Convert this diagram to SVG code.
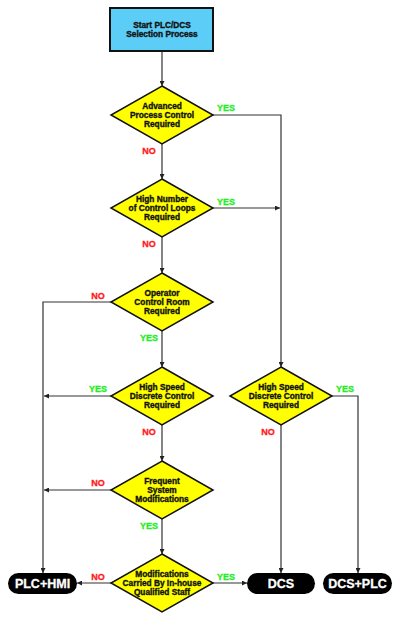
<svg xmlns="http://www.w3.org/2000/svg" width="400" height="622" viewBox="0 0 400 622">
<defs>
<marker id="ah" viewBox="0 0 6 6" refX="6" refY="3" markerWidth="5" markerHeight="5" markerUnits="userSpaceOnUse" orient="auto">
<path d="M0,0 L6,3 L0,6 Z" fill="#222"/>
</marker>
<style>
.dia{fill:#ffff00;stroke:#111;stroke-width:1.5;stroke-linejoin:miter}
.t{font-family:"Liberation Sans",Arial,sans-serif;font-weight:bold;font-size:8.3px;fill:#111;text-anchor:middle;stroke:#111;stroke-width:0.35}
.term{fill:#000}
.tt{font-family:"Liberation Sans",Arial,sans-serif;font-weight:bold;font-size:12.5px;fill:#fff;text-anchor:middle;stroke:#fff;stroke-width:0.3}
.yes{font-family:"Liberation Sans",Arial,sans-serif;font-weight:bold;font-size:9px;fill:#22ee22;stroke:#22ee22;stroke-width:0.3;text-anchor:middle}
.no{font-family:"Liberation Sans",Arial,sans-serif;font-weight:bold;font-size:9px;fill:#ff1a1a;stroke:#ff1a1a;stroke-width:0.3;text-anchor:middle}
.c{fill:none;stroke:#333;stroke-width:1.2}
</style>
</defs>
<rect width="400" height="622" fill="#fff"/>

<g id="connectors">
<path class="c" d="M162,51 V86" marker-end="url(#ah)"/>
<path class="c" d="M162,144 V179" marker-end="url(#ah)"/>
<path class="c" d="M162,237 V273" marker-end="url(#ah)"/>
<path class="c" d="M162,331 V367" marker-end="url(#ah)"/>
<path class="c" d="M162,425 V461" marker-end="url(#ah)"/>
<path class="c" d="M162,519 V554" marker-end="url(#ah)"/>
<path class="c" d="M213,115 H281 V367" marker-end="url(#ah)"/>
<path class="c" d="M213,208 H280" marker-end="url(#ah)"/>
<path class="c" d="M111,302 H43 V573" marker-end="url(#ah)"/>
<path class="c" d="M111,396 H44" marker-end="url(#ah)"/>
<path class="c" d="M111,490 H44" marker-end="url(#ah)"/>
<path class="c" d="M281,425 V573" marker-end="url(#ah)"/>
<path class="c" d="M332,396 H358 V573" marker-end="url(#ah)"/>
<path class="c" d="M111,583 H77" marker-end="url(#ah)"/>
<path class="c" d="M213,583 H247" marker-end="url(#ah)"/>
<text class="yes" x="226" y="111">YES</text>
<text class="no" x="149" y="154">NO</text>
<text class="yes" x="226" y="205">YES</text>
<text class="no" x="149" y="247">NO</text>
<text class="no" x="98" y="299">NO</text>
<text class="yes" x="149" y="341">YES</text>
<text class="yes" x="98" y="392">YES</text>
<text class="no" x="149" y="435">NO</text>
<text class="yes" x="345" y="392">YES</text>
<text class="no" x="268" y="435">NO</text>
<text class="no" x="98" y="486">NO</text>
<text class="yes" x="149" y="529">YES</text>
<text class="no" x="98" y="580">NO</text>
<text class="yes" x="226" y="580">YES</text>
</g>

<g id="start">
<rect x="110" y="8" width="103" height="43" fill="#5bcdf6" stroke="#111" stroke-width="2"/>
<text class="t" x="162" y="28">Start PLC/DCS</text>
<text class="t" x="162" y="37">Selection Process</text>
</g>

<g id="d1">
<polygon class="dia" points="162,86 213,115 162,144 111,115"/>
<text class="t" x="162" y="109">Advanced</text>
<text class="t" x="162" y="118">Process Control</text>
<text class="t" x="162" y="127">Required</text>
</g>

<g id="d2">
<polygon class="dia" points="162,179 213,208 162,237 111,208"/>
<text class="t" x="162" y="202">High Number</text>
<text class="t" x="162" y="211">of Control Loops</text>
<text class="t" x="162" y="220">Required</text>
</g>

<g id="d3">
<polygon class="dia" points="162,273 213,302 162,331 111,302"/>
<text class="t" x="162" y="296">Operator</text>
<text class="t" x="162" y="305">Control Room</text>
<text class="t" x="162" y="314">Required</text>
</g>

<g id="d4">
<polygon class="dia" points="162,367 213,396 162,425 111,396"/>
<text class="t" x="162" y="390">High Speed</text>
<text class="t" x="162" y="399">Discrete Control</text>
<text class="t" x="162" y="408">Required</text>
</g>

<g id="d4r">
<polygon class="dia" points="281,367 332,396 281,425 230,396"/>
<text class="t" x="281" y="390">High Speed</text>
<text class="t" x="281" y="399">Discrete Control</text>
<text class="t" x="281" y="408">Required</text>
</g>

<g id="d5">
<polygon class="dia" points="162,461 213,490 162,519 111,490"/>
<text class="t" x="162" y="484">Frequent</text>
<text class="t" x="162" y="493">System</text>
<text class="t" x="162" y="502">Modifications</text>
</g>

<g id="d6">
<polygon class="dia" points="162,554 213,583 162,612 111,583"/>
<text class="t" x="162" y="577">Modifications</text>
<text class="t" x="162" y="586">Carried By In-house</text>
<text class="t" x="162" y="595">Qualified Staff</text>
</g>

<g id="plchmi">
<rect class="term" x="8" y="573" width="69" height="21" rx="10.5"/>
<text class="tt" x="42.5" y="588">PLC+HMI</text>
</g>

<g id="dcs">
<rect class="term" x="247" y="573" width="68" height="21" rx="10.5"/>
<text class="tt" x="281" y="588">DCS</text>
</g>

<g id="dcsplc">
<rect class="term" x="323" y="573" width="69" height="21" rx="10.5"/>
<text class="tt" x="357.5" y="588">DCS+PLC</text>
</g>
</svg>
